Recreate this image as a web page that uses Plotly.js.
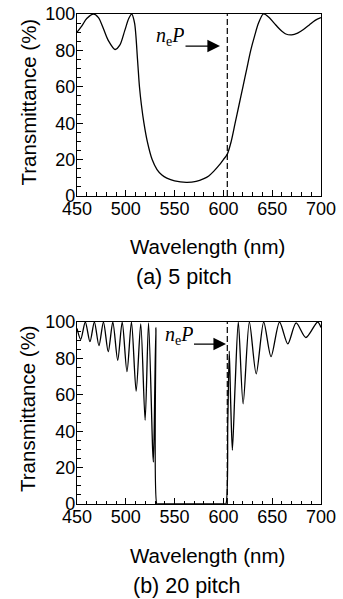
<!DOCTYPE html>
<html>
<head>
<meta charset="utf-8">
<script src="https://cdn.plot.ly/plotly-3.0.1.min.js"></script>
<style>html,body{margin:0;padding:0;background:#fff;}#chart{width:343px;height:599px;}</style>
</head>
<body>
<div id="chart"></div>
<script>
// (a) 5 pitch
const wl5 = [450,455,460,467,472,477,482,489,494,499,503,506,509,512,514,516,518.6,522,527,532,537,542,550,562,572,580,585,590,595,600,604,608,612,616,620,624,628,632,636,641,646,652,658,664,670,676,682,688,694,700];
const tr5 = [90,93.5,97.5,100,98,92,85.5,80.5,83,91,97.5,100,95,75,60,50,40,30,20,14.5,11.5,9.8,8.3,7.5,8,9.5,11,13.5,16.5,20,23,30,40,50,60,70,80,88,95,100,98.5,95,91.5,89,88.5,89.5,91.5,94,96.5,98];
// (b) 20 pitch
const wl20 = [450,453.8,458.5,463.3,467.8,472.5,477.1,482,486.7,491.7,496.3,501.2,505.8,510.6,515.3,519.8,523.3,527.5,528.3,530.8,531.8,533,601,602.5,604.5,606,607.5,609.2,612,615.3,620.2,626.6,633.6,641.3,648.8,657.5,666,674.5,684.5,696.5,700];
const tr20 = [96.5,90.5,100,89.2,100,87,100,83.7,100,79,100,72.7,100,62,99,46,99.5,30,23,97,0,0,0,0,45,84,55,29.5,65,100,55,100,71.5,100,81,100,88,99.5,91.5,100,97];
const xTicks = [450,500,550,600,650,700];
const yTicks = [0,20,40,60,80,100];
const nePos = 604;
const captions = ["(a) 5 pitch","(b) 20 pitch"];

const lineStyle = {color:'#000', width:1.3, shape:'spline', smoothing:0.8};
const traces = [
  {x:wl5, y:tr5, xaxis:'x', yaxis:'y', mode:'lines', line:lineStyle, hoverinfo:'skip'},
  {x:wl20, y:tr20, xaxis:'x2', yaxis:'y2', mode:'lines', line:lineStyle, hoverinfo:'skip'}
];

const tickFont = {family:'Liberation Sans, Arial, sans-serif', size:18, color:'#000'};
function xa(anchor){
  return {range:[450,700], tickvals:xTicks, ticktext:xTicks.map(String), ticks:'inside', ticklen:6, tickwidth:1, tickcolor:'#000',
    minor:{dtick:10, tick0:450, ticks:'inside', ticklen:3.5, tickwidth:1, tickcolor:'#000', showgrid:false},
    showline:true, mirror:true, linecolor:'#000', linewidth:1.2, showgrid:false, zeroline:false,
    tickfont:tickFont, anchor:anchor, fixedrange:true, ticklabelstandoff:-4};
}
function ya(anchor, domain){
  return {range:[0,100], domain:domain, tickvals:yTicks, ticktext:yTicks.map(String), ticks:'inside', ticklen:6, tickwidth:1, tickcolor:'#000',
    minor:{dtick:5, tick0:0, ticks:'inside', ticklen:3.5, tickwidth:1, tickcolor:'#000', showgrid:false},
    showline:true, mirror:true, linecolor:'#000', linewidth:1.2, showgrid:false, zeroline:false,
    tickfont:tickFont, anchor:anchor, fixedrange:true, ticklabelstandoff:-3};
}
const titleFont = {family:'Liberation Sans, Arial, sans-serif', size:20.5, color:'#000'};
const capFont = {family:'Liberation Sans, Arial, sans-serif', size:21.5, color:'#000'};
const serif = {family:'Liberation Serif, Times New Roman, serif', size:20, color:'#000'};
const neText = '<i>n</i><sub>e</sub><i>P</i>';

function txt(x, y, text, font, angle){
  return {xref:'paper', yref:'paper', x:x, y:y, xanchor:'center', yanchor:'middle', text:text, showarrow:false, font:font, textangle:angle||0};
}
const annotations = [
  txt(0.533, 0.5245, 'Wavelength (nm)', titleFont),
  txt(0.4385, 0.4633, captions[0], capFont),
  txt(0.533, -0.1041, 'Wavelength (nm)', titleFont),
  txt(0.4495, -0.1673, captions[1], capFont),
  txt(-0.2008, 0.8194, 'Transmittance (%)', titleFont, -90),
  txt(-0.2008, 0.1939, 'Transmittance (%)', titleFont, -90),
  // top label with arrow
  {xref:'x', yref:'y', x:596.5, y:82.4, axref:'x', ayref:'y', ax:545.3, ay:82.4, text:neText, font:serif,
   height:44, valign:'top', showarrow:true, arrowhead:2, arrowsize:2.1, arrowwidth:1.2, arrowcolor:'#000'},
  // bottom label with arrow
  {xref:'x2', yref:'y2', x:602.7, y:87.9, axref:'x2', ayref:'y2', ax:554, ay:87.9, text:neText, font:serif,
   height:42, valign:'top', showarrow:true, arrowhead:2, arrowsize:2.1, arrowwidth:1.2, arrowcolor:'#000'}
];

const shapes = [
  {type:'line', xref:'x', yref:'y', x0:nePos, x1:nePos, y0:0, y1:100, line:{color:'#000', width:1.2, dash:'6px,3px'}},
  {type:'line', xref:'x2', yref:'y2', x0:nePos, x1:nePos, y0:0, y1:100, line:{color:'#000', width:1.2, dash:'6px,3px'}}
];

const layout = {
  width:343, height:599,
  margin:{l:77, r:22, t:14, b:95},
  paper_bgcolor:'#fff', plot_bgcolor:'#fff',
  showlegend:false,
  xaxis:xa('y'), yaxis:ya('x',[0.6286,1]),
  xaxis2:xa('y2'), yaxis2:ya('x2',[0,0.3714]),
  annotations:annotations, shapes:shapes
};
Plotly.newPlot('chart', traces, layout, {staticPlot:true, displayModeBar:false});
</script>
</body>
</html>
